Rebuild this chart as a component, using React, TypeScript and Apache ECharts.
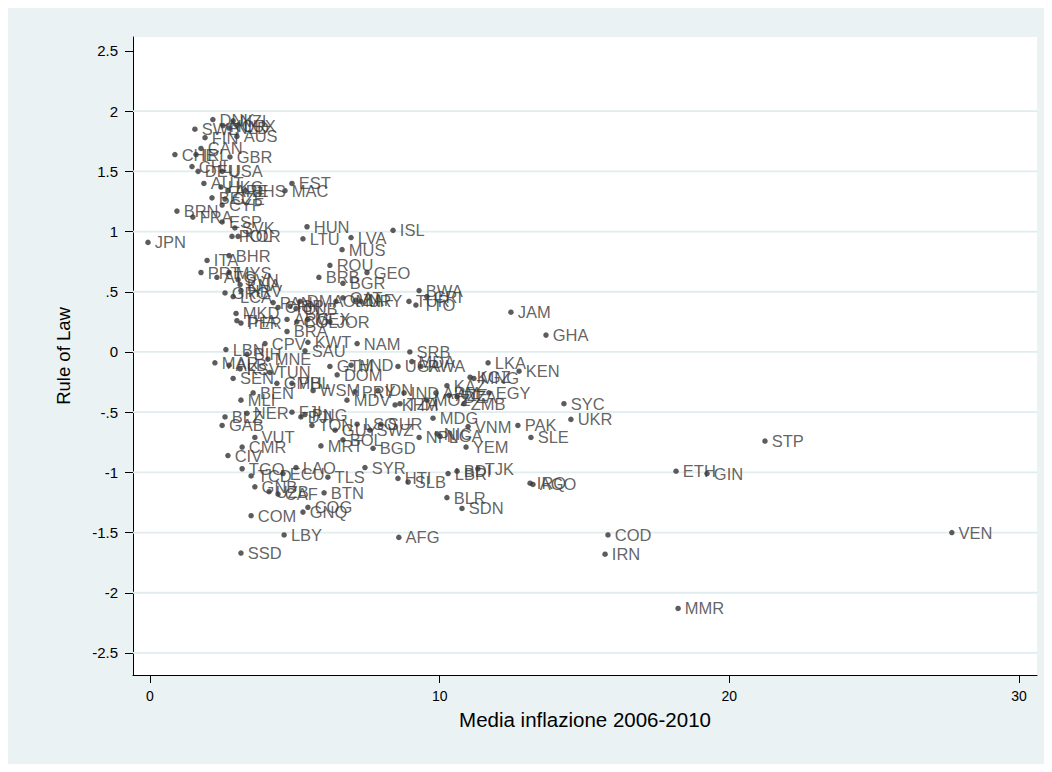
import React, { useEffect, useRef } from "react";
import * as echarts from "echarts";

// Country codes with average inflation 2006-2010 (%) and Rule of Law index
const codes = [
  "DNK", "NZL", "SWE", "NOR", "NLD", "LUX", "FIN", "AUS", "CAN", "CHE",
  "IRL", "GBR", "CHL", "DEU", "USA", "AUT", "HKG", "ARE", "BHS", "EST",
  "MAC", "BEL", "CZE", "CYP", "BRN", "FRA", "ESP", "SVK", "POL", "KOR",
  "HUN", "LTU", "LVA", "ISL", "MUS", "JPN", "BHR", "ITA", "ROU", "GEO",
  "BRB", "BGR", "PRT", "MYS", "ATG", "SVN", "KNA", "GRC", "LCA", "HRV",
  "BWA", "CRI", "TUR", "TTO", "URY", "QAT", "ZAF", "OMN", "PAN", "DMA",
  "CHN", "ISR", "CUB", "MKD", "THA", "PER", "ARG", "COL", "MEX", "JOR",
  "BRA", "JAM", "GHA", "CPV", "KWT", "NAM", "SAU", "LBN", "SRB", "BIH",
  "MNE", "MAR", "ALB", "KSV", "SEN", "TUN", "GTM", "HND", "DOM", "UGA",
  "MDA", "RWA", "LKA", "KEN", "KGZ", "MNG", "KAZ", "GMB", "PHL", "BEN",
  "WSM", "PRY", "IDN", "IND", "MDV", "ARM", "AZE", "DZA", "EGY", "SYC",
  "UKR", "MLI", "KHM", "TZA", "MOZ", "ZMB", "MDG", "NER", "BLZ", "FJI",
  "PNG", "DJI", "GAB", "TON", "LSO", "SUR", "GUY", "SWZ", "VNM", "PAK",
  "SLE", "NPL", "NGA", "NIC", "YEM", "VUT", "BOL", "MRT", "BGD", "CMR",
  "CIV", "TGO", "LAO", "TCD", "ECU", "TLS", "SYR", "HTI", "SLB", "LBR",
  "BDI", "TJK", "IRQ", "AGO", "ETH", "GIN", "STP", "GNB", "UZB", "CAF",
  "BTN", "COG", "GNQ", "COM", "BLR", "SDN", "LBY", "AFG", "SSD", "COD",
  "IRN", "MMR", "VEN",
];

const inflation = [
  2.17, 2.87, 1.55, 2.52, 2.73, 3.0, 1.9, 3.0, 1.76, 0.86,
  1.59, 2.76, 1.45, 1.66, 2.49, 1.86, 2.45, 2.69, 3.28, 4.9,
  4.66, 2.14, 2.59, 2.49, 0.93, 1.48, 2.49, 2.93, 2.83, 3.04,
  5.42, 5.28, 6.94, 8.39, 6.63, -0.07, 2.73, 1.97, 6.21, 7.49,
  5.83, 6.66, 1.76, 2.73, 2.31, 3.04, 3.11, 2.59, 2.87, 3.14,
  9.29, 9.56, 8.94, 9.18, 7.28, 6.66, 7.11, 6.42, 4.25, 5.18,
  4.42, 4.83, 5.04, 2.97, 3.0, 3.14, 4.73, 5.07, 5.45, 6.21,
  4.73, 12.46, 13.67, 3.97, 5.45, 7.15, 5.35, 2.62, 8.97, 3.35,
  4.07, 2.24, 2.73, 3.11, 2.87, 4.14, 6.21, 6.94, 6.46, 8.56,
  9.04, 9.35, 11.67, 12.74, 11.05, 11.18, 10.25, 4.38, 4.9, 3.56,
  5.63, 7.08, 7.87, 8.77, 6.8, 9.87, 10.32, 10.6, 11.7, 14.29,
  14.53, 3.14, 8.46, 8.63, 9.56, 10.84, 9.77, 3.35, 2.59, 4.9,
  5.35, 5.21, 2.49, 5.59, 7.15, 7.97, 6.39, 7.59, 10.98, 12.7,
  13.15, 9.29, 10.01, 9.91, 10.91, 3.62, 6.66, 5.9, 7.7, 3.18,
  2.69, 3.18, 5.04, 3.49, 4.59, 6.14, 7.42, 8.56, 8.91, 10.29,
  10.6, 11.32, 13.12, 13.22, 18.16, 19.23, 21.23, 3.62, 4.11, 4.42,
  6.01, 5.45, 5.28, 3.49, 10.25, 10.77, 4.63, 8.59, 3.14, 15.81,
  15.71, 18.23, 27.68,
];

const ruleOfLaw = [
  1.93, 1.92, 1.85, 1.88, 1.86, 1.88, 1.78, 1.79, 1.69, 1.64,
  1.64, 1.62, 1.54, 1.5, 1.5, 1.4, 1.37, 1.34, 1.34, 1.4,
  1.34, 1.28, 1.27, 1.22, 1.17, 1.12, 1.08, 1.03, 0.96, 0.96,
  1.04, 0.94, 0.95, 1.01, 0.85, 0.91, 0.8, 0.76, 0.72, 0.66,
  0.62, 0.57, 0.66, 0.66, 0.62, 0.6, 0.56, 0.49, 0.46, 0.51,
  0.51, 0.46, 0.42, 0.39, 0.42, 0.45, 0.43, 0.42, 0.41, 0.42,
  0.37, 0.38, 0.36, 0.32, 0.26, 0.24, 0.27, 0.25, 0.27, 0.25,
  0.17, 0.33, 0.14, 0.07, 0.08, 0.07, 0.01, 0.02, 0.0, -0.02,
  -0.06, -0.09, -0.11, -0.14, -0.22, -0.17, -0.12, -0.11, -0.19, -0.12,
  -0.08, -0.12, -0.09, -0.16, -0.21, -0.22, -0.28, -0.26, -0.26, -0.34,
  -0.32, -0.33, -0.32, -0.34, -0.4, -0.34, -0.36, -0.37, -0.34, -0.43,
  -0.56, -0.4, -0.44, -0.43, -0.4, -0.43, -0.55, -0.51, -0.54, -0.5,
  -0.52, -0.54, -0.61, -0.61, -0.6, -0.6, -0.65, -0.65, -0.62, -0.61,
  -0.71, -0.71, -0.7, -0.68, -0.79, -0.71, -0.73, -0.78, -0.8, -0.79,
  -0.86, -0.97, -0.96, -1.03, -1.01, -1.04, -0.96, -1.05, -1.08, -1.01,
  -0.99, -0.97, -1.09, -1.1, -0.99, -1.01, -0.74, -1.12, -1.16, -1.18,
  -1.17, -1.29, -1.33, -1.36, -1.21, -1.3, -1.52, -1.54, -1.67, -1.52,
  -1.68, -2.13, -1.5,
];

// Axis ticks and horizontal grid lines
const xTicks = [0, 10, 20, 30];
const yTicks = [-2.5, -2, -1.5, -1, -0.5, 0, 0.5, 1, 1.5, 2, 2.5];
const gridValues = [-2.5, -2, -1.5, -1, -0.5, 0, 0.5, 1, 1.5, 2];

const X_MIN = -0.587;
const X_MAX = 30.62;
const Y_MIN = -2.683;
const Y_MAX = 2.616;

// Stata-style number format: ".5" / "-.5"
function stataNum(v: number): string {
  if (v === 0) return "0";
  return String(v).replace(/^0\./, ".").replace(/^-0\./, "-.");
}

const FONT = "'Liberation Sans', Arial, Helvetica, sans-serif";

export default function App() {
  const ref = useRef<HTMLDivElement>(null);

  useEffect(() => {
    if (!ref.current) return;
    const chart = echarts.init(ref.current, null, { renderer: "svg" });

    const gridSeries = gridValues.map((v) => ({
      type: "line",
      data: [
        [X_MIN, v],
        [X_MAX, v],
      ],
      symbol: "none",
      silent: true,
      z: 1,
      lineStyle: { color: "#e1ecee", width: 1.8 },
    }));

    const points = codes.map((c, i) => ({
      name: c,
      value: [inflation[i], ruleOfLaw[i]],
    }));

    chart.setOption({
      animation: false,
      backgroundColor: "#eaf2f3",
      textStyle: { fontFamily: FONT },
      grid: {
        left: 125,
        top: 29,
        width: 904,
        height: 638,
        show: true,
        backgroundColor: "#ffffff",
        borderWidth: 0,
      },
      xAxis: {
        type: "value",
        min: X_MIN,
        max: X_MAX,
        name: "Media inflazione 2006-2010",
        nameLocation: "middle",
        nameGap: 34,
        nameTextStyle: { fontSize: 20.5, color: "#000", fontFamily: FONT },
        axisLine: { show: true, onZero: false, lineStyle: { color: "#000", width: 1 } },
        axisTick: { show: true, length: 8, customValues: xTicks, lineStyle: { color: "#000" } },
        axisLabel: {
          customValues: xTicks,
          fontSize: 14,
          color: "#000",
          margin: 14,
          fontFamily: FONT,
        },
        splitLine: { show: false },
      },
      yAxis: {
        type: "value",
        min: Y_MIN,
        max: Y_MAX,
        name: "Rule of Law",
        nameLocation: "middle",
        nameGap: 60,
        nameRotate: 90,
        nameTextStyle: { fontSize: 18.5, color: "#000", fontFamily: FONT },
        axisLine: { show: true, onZero: false, lineStyle: { color: "#000", width: 1 } },
        axisTick: { show: true, length: 8, customValues: yTicks, lineStyle: { color: "#000" } },
        axisLabel: {
          customValues: yTicks,
          fontSize: 15,
          color: "#000",
          margin: 15,
          fontFamily: FONT,
          formatter: (v: number) => stataNum(v),
        },
        splitLine: { show: false },
      },
      series: [
        ...gridSeries,
        {
          type: "scatter",
          data: points,
          symbolSize: 5.5,
          z: 3,
          itemStyle: { color: "#333333" },
          label: {
            show: true,
            position: "right",
            distance: 4,
            formatter: "{b}",
            fontSize: 16.5,
            color: "#3a3a3a",
            fontFamily: FONT,
          },
        },
      ],
    });

    return () => chart.dispose();
  }, []);

  return <div ref={ref} style={{ width: 1036, height: 756 }} />;
}
